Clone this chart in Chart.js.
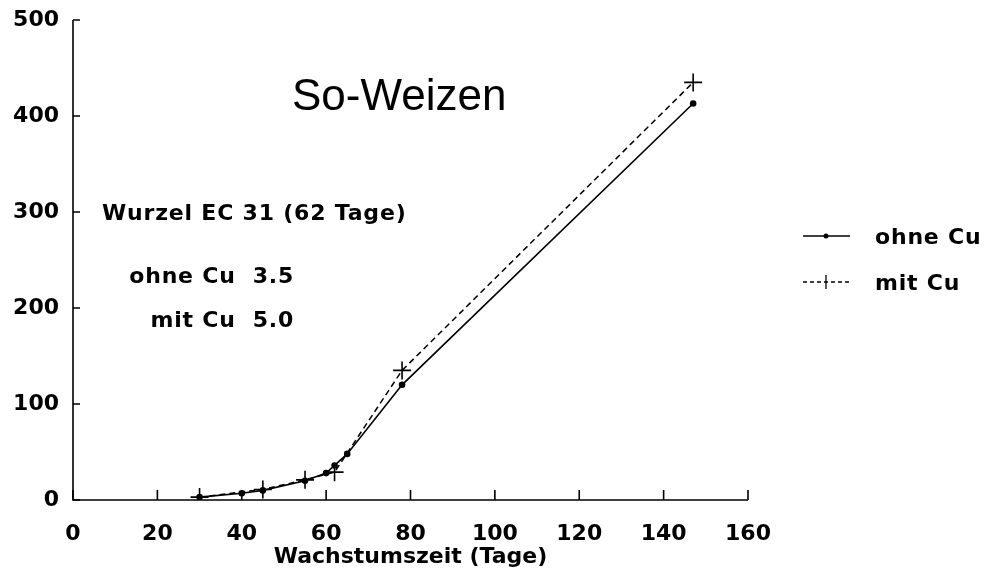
<!DOCTYPE html>
<html>
<head>
<meta charset="utf-8">
<script src="https://cdn.jsdelivr.net/npm/chart.js@4/dist/chart.umd.min.js"></script>
<style>
  html, body { margin: 0; padding: 0; background: #fff; }
  #wrap { width: 1001px; height: 574px; position: relative; }
</style>
</head>
<body>
<div id="wrap"><canvas id="chart" width="1001" height="574"></canvas></div>
<script>
// values
const ohneDays = [30, 40, 45, 55, 60, 62, 65, 78, 147];
const ohneVals = [3, 7, 10, 20, 28, 36, 48, 120, 413];
const mitDays = [30, 45, 55, 62, 78, 147];
const mitVals = [3, 11, 21, 29, 135, 435];

const xTicks = [0, 20, 40, 60, 80, 100, 120, 140, 160];
const yTicks = [0, 100, 200, 300, 400, 500];

const fontFam = '"DejaVu Sans", Verdana, sans-serif';
const titleFam = '"Liberation Sans", Arial, sans-serif';

const toPts = (xs, ys) => xs.map((x, i) => ({x: x, y: ys[i]}));

// axis lines, inward ticks, text notes and legend
const paperPlugin = {
  id: 'paper',
  afterDraw(chart) {
    const ctx = chart.ctx;
    const xs = chart.scales.x, ys = chart.scales.y;
    const left = xs.left, bottom = ys.bottom;
    ctx.save();
    ctx.strokeStyle = '#000';
    ctx.lineWidth = 1.6;
    ctx.beginPath();
    ctx.moveTo(left, ys.getPixelForValue(500));
    ctx.lineTo(left, bottom);
    ctx.lineTo(xs.getPixelForValue(160), bottom);
    ctx.stroke();
    ctx.beginPath();
    yTicks.forEach(v => {
      const py = ys.getPixelForValue(v);
      ctx.moveTo(left, py); ctx.lineTo(left + 7, py);
    });
    xTicks.forEach(v => {
      const px = xs.getPixelForValue(v);
      ctx.moveTo(px, bottom); ctx.lineTo(px, bottom - 10);
    });
    ctx.stroke();

    ctx.fillStyle = '#000';
    ctx.textBaseline = 'middle';
    ctx.textAlign = 'left';
    ctx.font = '44px ' + titleFam;
    ctx.fillText('So-Weizen', 292, 98);
    ctx.font = 'bold 22px ' + fontFam;
    ctx.letterSpacing = '0.8px';
    ctx.fillText('Wurzel EC 31 (62 Tage)', 102, 214);
    ctx.textAlign = 'right';
    ctx.fillText('ohne Cu  3.5', 294, 277);
    ctx.fillText('mit Cu  5.0', 294, 321);

    // legend
    ctx.textAlign = 'left';
    ctx.fillText('ohne Cu', 875, 238);
    ctx.fillText('mit Cu', 875, 284);
    ctx.lineWidth = 1.3;
    ctx.beginPath();
    ctx.moveTo(803, 236); ctx.lineTo(850, 236);
    ctx.stroke();
    ctx.beginPath();
    ctx.arc(826, 236, 2.5, 0, Math.PI * 2);
    ctx.fill();
    ctx.setLineDash([4, 3]);
    ctx.beginPath();
    ctx.moveTo(803, 282); ctx.lineTo(850, 282);
    ctx.stroke();
    ctx.setLineDash([]);
    ctx.beginPath();
    ctx.moveTo(826, 275); ctx.lineTo(826, 289);
    ctx.stroke();
    ctx.restore();
  }
};

new Chart(document.getElementById('chart'), {
  type: 'scatter',
  data: {
    datasets: [
      {
        label: 'ohne Cu',
        data: toPts(ohneDays, ohneVals),
        showLine: true,
        borderColor: '#000',
        backgroundColor: '#000',
        borderWidth: 1.6,
        pointRadius: 2.5,
        pointStyle: 'circle',
        tension: 0
      },
      {
        label: 'mit Cu',
        data: toPts(mitDays, mitVals),
        showLine: true,
        borderColor: '#000',
        backgroundColor: '#000',
        borderWidth: 1.5,
        borderDash: [6, 4],
        pointRadius: 9,
        pointBorderWidth: 1.6,
        pointStyle: 'cross',
        tension: 0
      }
    ]
  },
  options: {
    responsive: false,
    animation: false,
    devicePixelRatio: 1,
    layout: { padding: { top: 20, right: 253, left: 0, bottom: 0 } },
    plugins: { legend: { display: false }, tooltip: { enabled: false } },
    scales: {
      x: {
        type: 'linear',
        min: 0, max: 160,
        afterBuildTicks: s => { s.ticks = xTicks.map(v => ({value: v})); },
        afterFit: s => { s.height = 74; },
        grid: { display: false },
        border: { display: false },
        ticks: { color: '#000', padding: 13, font: { family: fontFam, size: 22, weight: 'bold' } },
        title: {
          display: true, text: 'Wachstumszeit (Tage)', color: '#000',
          padding: { top: 0, bottom: 4 },
          font: { family: fontFam, size: 22, weight: 'bold' }
        }
      },
      y: {
        type: 'linear',
        min: 0, max: 500,
        afterBuildTicks: s => { s.ticks = yTicks.map(v => ({value: v})); },
        afterFit: s => { s.width = 73; },
        grid: { display: false },
        border: { display: false },
        ticks: { color: '#000', padding: 6, font: { family: fontFam, size: 22, weight: 'bold' } }
      }
    }
  },
  plugins: [paperPlugin]
});
</script>
</body>
</html>
